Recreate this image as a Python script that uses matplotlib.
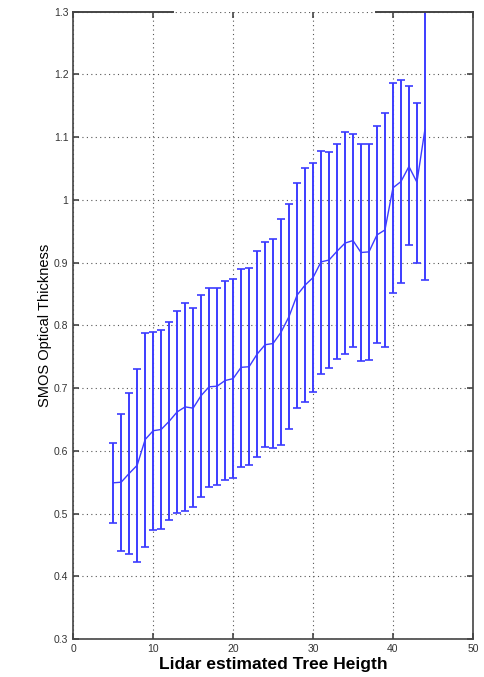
import matplotlib.pyplot as plt


# Vrednosti ocitane sa slike: visina drveta, srednja vrednost i granice greske.
TREE_HEIGHT = list(range(5, 45))
MEAN_TAU = [
    0.549, 0.550, 0.564, 0.577, 0.618, 0.632, 0.634, 0.647, 0.662, 0.670,
    0.668, 0.688, 0.702, 0.703, 0.712, 0.715, 0.733, 0.734, 0.754, 0.769,
    0.771, 0.789, 0.814, 0.848, 0.864, 0.876, 0.901, 0.904, 0.918, 0.931,
    0.935, 0.916, 0.917, 0.944, 0.952, 1.019, 1.029, 1.053, 1.028, 1.112,
]
UPPER_TAU = [
    0.613, 0.659, 0.692, 0.731, 0.788, 0.790, 0.793, 0.805, 0.823, 0.836,
    0.827, 0.849, 0.860, 0.859, 0.871, 0.873, 0.890, 0.891, 0.918, 0.932,
    0.938, 0.969, 0.993, 1.026, 1.050, 1.059, 1.078, 1.076, 1.089, 1.108,
    1.105, 1.089, 1.089, 1.117, 1.139, 1.186, 1.191, 1.182, 1.155, 1.352,
]
LOWER_TAU = [
    0.485, 0.440, 0.435, 0.423, 0.447, 0.474, 0.476, 0.489, 0.501, 0.504,
    0.510, 0.527, 0.543, 0.546, 0.553, 0.556, 0.575, 0.577, 0.590, 0.606,
    0.605, 0.609, 0.634, 0.669, 0.678, 0.694, 0.723, 0.732, 0.747, 0.755,
    0.766, 0.743, 0.745, 0.771, 0.766, 0.852, 0.868, 0.928, 0.899, 0.872,
]

X_TICKS = [0, 10, 20, 30, 40, 50]
Y_TICKS = [0.3, 0.4, 0.5, 0.6, 0.7, 0.8, 0.9, 1, 1.1, 1.2, 1.3]
Y_TICK_LABELS = ["0.3", "0.4", "0.5", "0.6", "0.7", "0.8", "0.9", "1", "1.1", "1.2", "1.3"]

LINE_COLOR = "#3c3cff"
FRAME_COLOR = "#444444"

plt.rcParams["font.family"] = ["Liberation Sans", "DejaVu Sans"]

fig = plt.figure(figsize=(4.85, 6.77), dpi=100)
ax = fig.add_axes([0.151, 0.056, 0.824, 0.927])

yerr = [
    [m - lo for m, lo in zip(MEAN_TAU, LOWER_TAU)],
    [up - m for m, up in zip(MEAN_TAU, UPPER_TAU)],
]
ax.errorbar(
    TREE_HEIGHT,
    MEAN_TAU,
    yerr=yerr,
    color=LINE_COLOR,
    linewidth=1.0,
    elinewidth=1.4,
    capsize=3,
    capthick=1.2,
    zorder=3,
)

ax.set_xlim(0, 50)
ax.set_ylim(0.3, 1.3)
ax.set_xticks(X_TICKS)
ax.set_yticks(Y_TICKS)
ax.set_yticklabels(Y_TICK_LABELS)

# Mreza u MATLAB stilu.
ax.grid(True, linestyle=(0, (1, 3)), color="#555555", linewidth=0.8)
ax.tick_params(
    direction="in",
    top=True,
    right=True,
    length=4,
    width=1.2,
    color=FRAME_COLOR,
    labelsize=7.5,
    labelcolor="#333333",
)

for side in ["left", "right", "bottom"]:
    ax.spines[side].set_color(FRAME_COLOR)
    ax.spines[side].set_linewidth(1.2)

# Gornja ivica je na originalu prekinuta u sredini.
ax.spines["top"].set_visible(False)
ax.plot([0, 0.249], [1, 1], transform=ax.transAxes, color=FRAME_COLOR,
        linewidth=1.4, clip_on=False, zorder=4)
ax.plot([0.758, 1], [1, 1], transform=ax.transAxes, color=FRAME_COLOR,
        linewidth=1.4, clip_on=False, zorder=4)

ax.set_xlabel("Lidar estimated Tree Heigth", fontsize=12.5, fontweight="bold", labelpad=2)
ax.set_ylabel("SMOS Optical Thickness", fontsize=10.5, labelpad=1)

fig.savefig("out.png", dpi=100)
